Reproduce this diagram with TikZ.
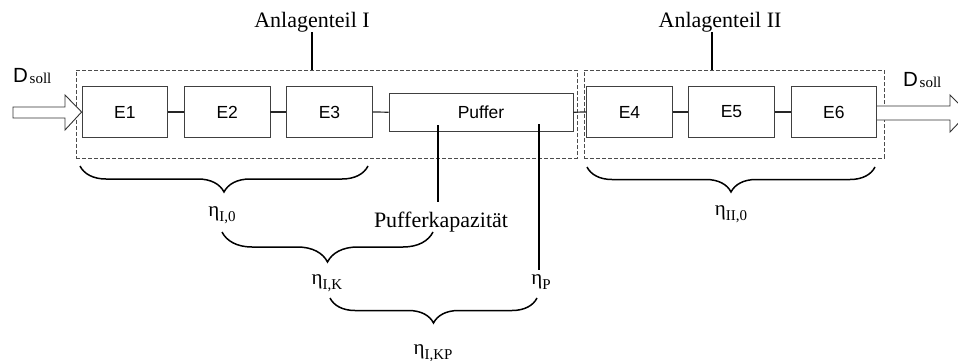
\documentclass[tikz,border=0pt]{standalone}
\usepackage{fontspec}
\setmainfont{Liberation Serif}
\newfontfamily\arial{Liberation Sans}
\usetikzlibrary{decorations.pathreplacing}

\tikzset{
  elem/.style={draw=black!75, line width=0.9pt, fill=white, inner sep=0pt,
               minimum width=85.5pt, minimum height=50.5pt,
               font=\arial\fontsize{17.5}{20}\selectfont},
  grp/.style={draw=black!70, line width=0.9pt, dash pattern=on 4pt off 2pt,
              minimum height=88pt},
  link/.style={draw=black!85, line width=1.2pt},
  lead/.style={draw=black, line width=1.5pt},
  brc/.style={draw=black, line width=1.5pt, decorate,
              decoration={brace, mirror, amplitude=#1}},
  lbl/.style={inner sep=0pt, anchor=base, font=\fontsize{22}{26}\selectfont},
  hollow/.style={draw=black!80, line width=0.9pt, fill=white}
}
\newcommand\effi[1]{{\fontsize{21}{24}\selectfont η}\raisebox{-5pt}{\fontsize{15}{18}\selectfont #1}}
\newcommand\dsoll{{\arial\fontsize{20.5}{23}\selectfont D}\,\raisebox{-0.3ex}{\fontsize{15}{18}\selectfont soll}}

\begin{document}
\begin{tikzpicture}[x=1pt,y=-1pt]
\clip (0,0) rectangle (958,361);

% Anlagenteile
\node[grp, minimum width=501pt] (teilI) at (326.5,114) {};
\node[grp, minimum width=300pt] (teilII) at (734,114) {};

% Elemente
\foreach \n/\x in {1/124.8, 2/227.2, 3/329.5, 4/629.5, 5/731.5, 6/833.8}
  \node[elem] (e\n) at (\x,112) {E\n};
\node[elem, minimum width=184pt, minimum height=37.5pt] (puffer) at (481,112.2) {Puffer};

\foreach \a/\b in {e1/e2, e2/e3, e3/puffer, puffer/e4, e4/e5, e5/e6}
  \draw[link] (\a.east) -- (\b.west);

% Durchsatz
\draw[hollow] (13,107) -- (65,107) -- (65,95) -- (e1.west) -- (65,130)
  -- (65,118) -- (13,118) -- cycle;
\draw[hollow] (e6.east |- 0,106) -- (950,106) -- (950,95) -- (968,113)
  -- (950,132) -- (950,120) -- (e6.east |- 0,120);
\node[inner sep=0pt, anchor=base west] (din) at (13,82.5) {\dsoll};
\node[inner sep=0pt, anchor=base west] (dout) at (903,86) {\dsoll};

% Beschriftung
\node[lbl] (lblI) at (312,27.3) {Anlagenteil I};
\node[lbl] (lblII) at (720,27.3) {Anlagenteil II};
\draw[lead] (lblI.south) -- (lblI.south |- teilI.north);
\draw[lead] ([xshift=-8pt]lblII.south) -- ([xshift=-8pt]lblII.south |- teilII.north);

\draw[lead] ([xshift=-43pt,yshift=6pt]puffer.south) -- ++(0,77);
\draw[lead] ([xshift=58pt,yshift=7pt]puffer.south) -- ++(0,146);

% Wirkungsgrade
\draw[brc=26pt] (80,166) -- (368,166);
\draw[brc=25pt] (587,167) -- (875,167);
\draw[brc=30pt] (222,232) -- (433,232);
\draw[brc=25pt] (330,298) -- (537,298);

\node[lbl] (eta10) at (222,216) {\effi{I,0}};
\node[lbl] (kap) at (441,227) {Pufferkapazität};
\node[lbl] (eta20) at (731,215) {\effi{II,0}};
\node[lbl] (etaK) at (327,284) {\effi{I,K}};
\node[lbl] (etaP) at (541,284) {\effi{P}};
\node[lbl] (etaKP) at (433,354) {\effi{I,KP}};

\end{tikzpicture}
\end{document}
